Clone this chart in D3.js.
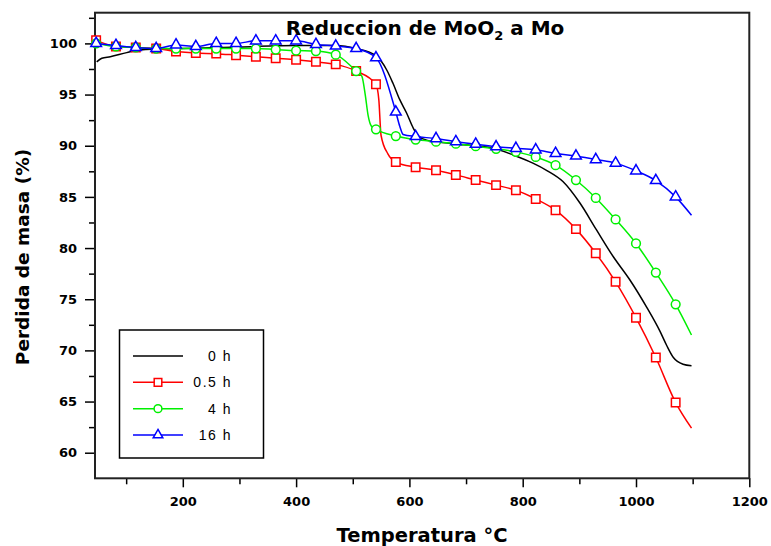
<!DOCTYPE html>
<html lang="es">
  <head>
    <meta charset="utf-8" />
    <title>Reduccion de MoO2 a Mo</title>
    <script type="text/javascript" src="https://cdn.jsdelivr.net/npm/d3@7"></script>
    <style>
      body {
        margin: 0;
        background: #fff;
      }
      .axis text {
        font-family: "DejaVu Sans", sans-serif;
        font-weight: bold;
        font-size: 13px;
        fill: #000;
      }
      .axis line {
        stroke: #000;
        stroke-width: 1.5px;
      }
      .axis path {
        display: none;
      }
      .bold {
        font-family: "DejaVu Sans", sans-serif;
        font-weight: bold;
        fill: #000;
      }
      .legend text {
        font-family: "Liberation Sans", Arial, sans-serif;
        font-size: 14px;
        letter-spacing: 1.5px;
        fill: #000;
      }
      path.serie {
        fill: none;
        stroke-width: 1.5px;
      }
      path.marker {
        fill: #fff;
        stroke-width: 1.5px;
      }
    </style>
  </head>
  <body>
    <script>
      let w = 771;
      let h = 546;

      // temperaturas de los marcadores (el ultimo valor es el final de la curva)
      let temps = [47, 82, 117, 153, 188, 223, 259, 294, 329, 364, 400, 435, 470, 506,
        541, 576, 611, 647, 682, 717, 753, 788, 823, 858, 894, 929, 964, 1000, 1035, 1070, 1098];

      let red05 = [100.3, 99.7, 99.6, 99.5, 99.2, 99.05, 99.0, 98.85, 98.7, 98.55, 98.4, 98.2,
        97.95, 97.3, 96.0, 88.4, 87.9, 87.6, 87.15, 86.65, 86.15, 85.65, 84.8, 83.7, 81.85,
        79.5, 76.7, 73.2, 69.3, 64.9, 62.4];
      let green4 = [100.0, 99.7, 99.6, 99.5, 99.5, 99.5, 99.5, 99.5, 99.5, 99.4, 99.3, 99.25,
        98.9, 97.3, 91.6, 90.95, 90.6, 90.4, 90.2, 89.95, 89.7, 89.4, 88.9, 88.1, 86.65,
        84.9, 82.8, 80.45, 77.6, 74.5, 71.5];
      let blue16 = [100.0, 99.8, 99.6, 99.5, 99.85, 99.7, 100.0, 100.0, 100.25, 100.25, 100.25,
        99.9, 99.75, 99.5, 98.6, 93.3, 90.9, 90.7, 90.4, 90.15, 89.9, 89.75, 89.6, 89.25,
        89.0, 88.65, 88.3, 87.55, 86.6, 85.0, 83.2];

      // puntos intermedios sin marcador (zona de la caida)
      let redExtra = [[546, 94.5], [550, 91.0], [562, 89.2]];
      let greenExtra = [[516, 96.8], [522, 95.0], [527, 93.0], [533, 91.9]];
      let blueExtra = [[583, 91.9], [589, 91.1]];

      // 0 h: linea continua sin marcadores
      let black0 = [[48, 98.2], [57, 98.55], [72, 98.7], [101, 99.1], [124, 99.35], [200, 99.5],
        [300, 99.65], [400, 99.8], [470, 99.8], [506, 99.5], [541, 98.8], [560, 97.4],
        [571, 96.1], [583, 94.5], [595, 93.2], [607, 91.7], [616, 90.95], [630, 90.55],
        [677, 90.2], [748, 89.75], [783, 89.1], [818, 88.3], [842, 87.6], [871, 86.5],
        [901, 84.4], [930, 81.8], [960, 79.15], [989, 76.9], [1019, 74.2], [1042, 71.9],
        [1054, 70.5], [1066, 69.3], [1083, 68.65], [1098, 68.5]];

      let xMajor = [200, 400, 600, 800, 1000, 1200];
      let xMinor = [100, 300, 500, 700, 900, 1100];
      let yMajor = [60, 65, 70, 75, 80, 85, 90, 95, 100];
      let yMinor = [62.5, 67.5, 72.5, 77.5, 82.5, 87.5, 92.5, 97.5, 102.5];

      let pLeft = 95, pRight = 749.3, pTop = 12.7, pBottom = 478.3;

      let x_scale = d3.scaleLinear().domain([45, 1200]).range([pLeft, pRight]);
      let y_scale = d3.scaleLinear().domain([57.5, 103]).range([pBottom, pTop]);

      let svg = d3.select("body").append("svg").attr("width", w).attr("height", h);

      // ejes
      svg.append("g").attr("class", "x axis")
        .attr("transform", `translate(0,${pBottom})`)
        .call(d3.axisBottom(x_scale).tickValues(xMajor).tickSize(9).tickPadding(9).tickFormat(d3.format("d")));
      svg.append("g").attr("class", "x axis")
        .attr("transform", `translate(0,${pBottom})`)
        .call(d3.axisBottom(x_scale).tickValues(xMinor).tickSize(6).tickFormat(""));
      svg.append("g").attr("class", "y axis")
        .attr("transform", `translate(${pLeft},0)`)
        .call(d3.axisLeft(y_scale).tickValues(yMajor).tickSize(10).tickPadding(8).tickFormat(d3.format("d")));
      svg.append("g").attr("class", "y axis")
        .attr("transform", `translate(${pLeft},0)`)
        .call(d3.axisLeft(y_scale).tickValues(yMinor).tickSize(6).tickFormat(""));

      svg.append("rect")
        .attr("x", pLeft).attr("y", pTop)
        .attr("width", pRight - pLeft).attr("height", pBottom - pTop)
        .attr("fill", "none").attr("stroke", "#222").attr("stroke-width", 2);

      let line = d3.line()
        .x((d) => x_scale(d[0]))
        .y((d) => y_scale(d[1]))
        .curve(d3.curveMonotoneX);

      let series = [
        { label: "0 h", color: "#000000", values: null, extra: [], symbol: null },
        { label: "0.5 h", color: "#ff0000", values: red05, extra: redExtra, symbol: d3.symbolSquare, size: 72 },
        { label: "4 h", color: "#00f000", values: green4, extra: greenExtra, symbol: d3.symbolCircle, size: 60 },
        { label: "16 h", color: "#0000ff", values: blue16, extra: blueExtra, symbol: d3.symbolTriangle, size: 50 },
      ];

      series.forEach((s) => {
        let pts = s.values ? temps.map((t, i) => [t, s.values[i]]) : black0;
        let all = pts.concat(s.extra).sort((a, b) => a[0] - b[0]);
        svg.append("path")
          .attr("class", "serie")
          .attr("d", line(all))
          .attr("stroke", s.color);
        if (s.symbol) {
          let sym = d3.symbol().type(s.symbol).size(s.size);
          svg.selectAll(null)
            .data(pts.slice(0, pts.length - 1))
            .join("path")
            .attr("class", "marker")
            .attr("d", sym)
            .attr("stroke", s.color)
            .attr("transform", (d) => `translate(${x_scale(d[0])},${y_scale(d[1])})`);
        }
      });

      // titulo y etiquetas
      let title = svg.append("text").attr("class", "bold")
        .attr("x", 425).attr("y", 35)
        .attr("text-anchor", "middle")
        .style("font-size", "20px");
      title.append("tspan").text("Reduccion de MoO");
      title.append("tspan").attr("dy", 5).style("font-size", "13px").text("2");
      title.append("tspan").attr("dy", -5).text(" a Mo");

      svg.append("text").attr("class", "bold")
        .attr("x", 422).attr("y", 542)
        .attr("text-anchor", "middle")
        .style("font-size", "19.5px")
        .text("Temperatura °C");

      svg.append("text").attr("class", "bold")
        .attr("transform", "translate(29,257) rotate(-90)")
        .attr("text-anchor", "middle")
        .style("font-size", "18.5px")
        .text("Perdida de masa (%)");

      // leyenda
      let legend = svg.append("g").attr("class", "legend");
      legend.append("rect")
        .attr("x", 119.5).attr("y", 330)
        .attr("width", 144).attr("height", 128)
        .attr("fill", "#fff").attr("stroke", "#000").attr("stroke-width", 1.5);

      let legendY = d3.scalePoint().domain(series.map((s) => s.label)).range([356, 435]);

      series.forEach((s) => {
        let ly = legendY(s.label);
        legend.append("line")
          .attr("x1", 133).attr("x2", 183)
          .attr("y1", ly).attr("y2", ly)
          .attr("stroke", s.color).attr("stroke-width", 1.5);
        if (s.symbol) {
          legend.append("path")
            .attr("class", "marker")
            .attr("d", d3.symbol().type(s.symbol).size(s.size * 0.8))
            .attr("stroke", s.color)
            .attr("transform", `translate(158,${ly})`);
        }
        legend.append("text")
          .attr("x", 232).attr("y", ly + 5)
          .attr("text-anchor", "end")
          .text(s.label);
      });
    </script>
  </body>
</html>
